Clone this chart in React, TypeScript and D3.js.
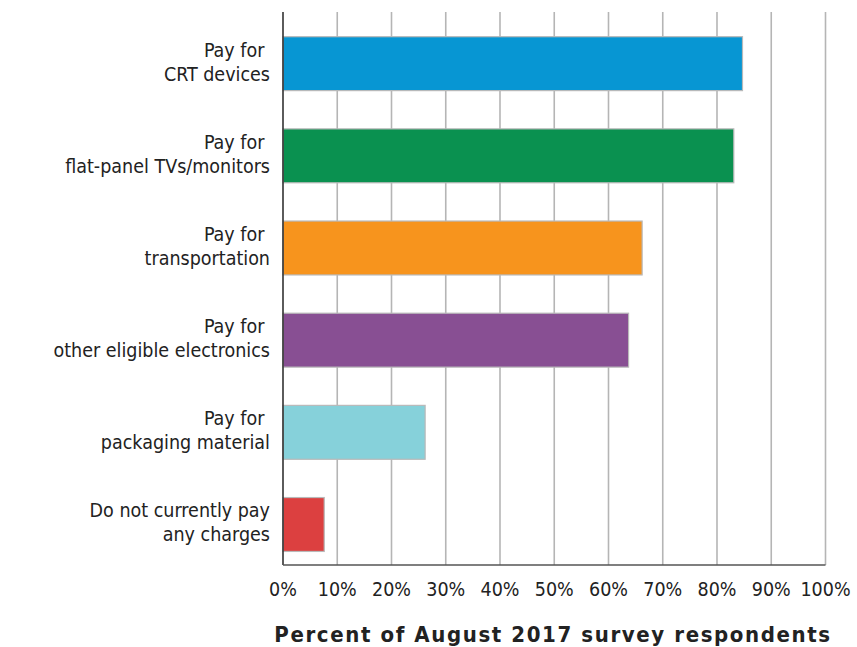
import React from "react";
import * as d3 from "d3";

const categories: string[][] = [
  ["Pay for ", "CRT devices"],
  ["Pay for ", "flat-panel TVs/monitors"],
  ["Pay for ", "transportation"],
  ["Pay for ", "other eligible electronics"],
  ["Pay for ", "packaging material"],
  ["Do not currently pay", "any charges"],
];
const values: number[] = [84.7, 83.1, 66.2, 63.7, 26.2, 7.6];
const colors: string[] = ["#0796d3", "#0a9150", "#f7941d", "#884f93", "#86d1da", "#dc4040"];
const ticks: number[] = [0, 10, 20, 30, 40, 50, 60, 70, 80, 90, 100];
const xTitle = "Percent of August 2017 survey respondents";

const W = 857;
const H = 647;
const FONT = "'DejaVu Sans Condensed', 'DejaVu Sans', sans-serif";

export default function App() {
  const x = d3.scaleLinear().domain([0, 100]).range([283, 825.5]);
  const top = 12;
  const bottom = 565;
  const keys = categories.map((_, i) => String(i));
  const band = d3.scaleBand<string>().domain(keys).range([top, bottom]).padding(0);
  const step = band.step();
  const barOff = step * 0.268;
  const barH = step * 0.585;

  return (
    <svg
      width={W}
      height={H}
      style={{ position: "absolute", left: 0, top: 0, background: "#fff" }}
      fontFamily={FONT}
      fontStretch="condensed"
    >
      {ticks.slice(1).map((t) => (
        <line key={t} x1={x(t)} x2={x(t)} y1={top} y2={bottom} stroke="#b5b5b5" strokeWidth={1.6} />
      ))}
      {values.map((v, i) => (
        <rect
          key={i}
          x={x(0)}
          y={(band(String(i)) as number) + barOff}
          width={x(v) - x(0)}
          height={barH}
          fill={colors[i]}
          stroke="#b9b9b9"
          strokeWidth={1.2}
        />
      ))}
      <line x1={x(0)} x2={x(0)} y1={top} y2={bottom} stroke="#333" strokeWidth={1.6} />
      <line x1={x(0)} x2={x(100)} y1={bottom} y2={bottom} stroke="#555" strokeWidth={1.6} />
      {categories.map((lines, i) => {
        const cy = (band(String(i)) as number) + barOff + barH / 2;
        return (
          <text key={i} x={270} textAnchor="end" fontSize={19.5} fill="#222" style={{ whiteSpace: "pre" }}>
            <tspan x={270} y={cy - 7}>{lines[0]}</tspan>
            <tspan x={270} y={cy + 17}>{lines[1]}</tspan>
          </text>
        );
      })}
      {ticks.map((t) => (
        <text key={t} x={x(t)} y={596} textAnchor="middle" fontSize={19.5} fill="#222">
          {t}%
        </text>
      ))}
      <text
        x={553}
        y={642}
        textAnchor="middle"
        fontSize={22}
        fontWeight="bold"
        letterSpacing={1.6}
        fill="#222"
      >
        {xTitle}
      </text>
    </svg>
  );
}
